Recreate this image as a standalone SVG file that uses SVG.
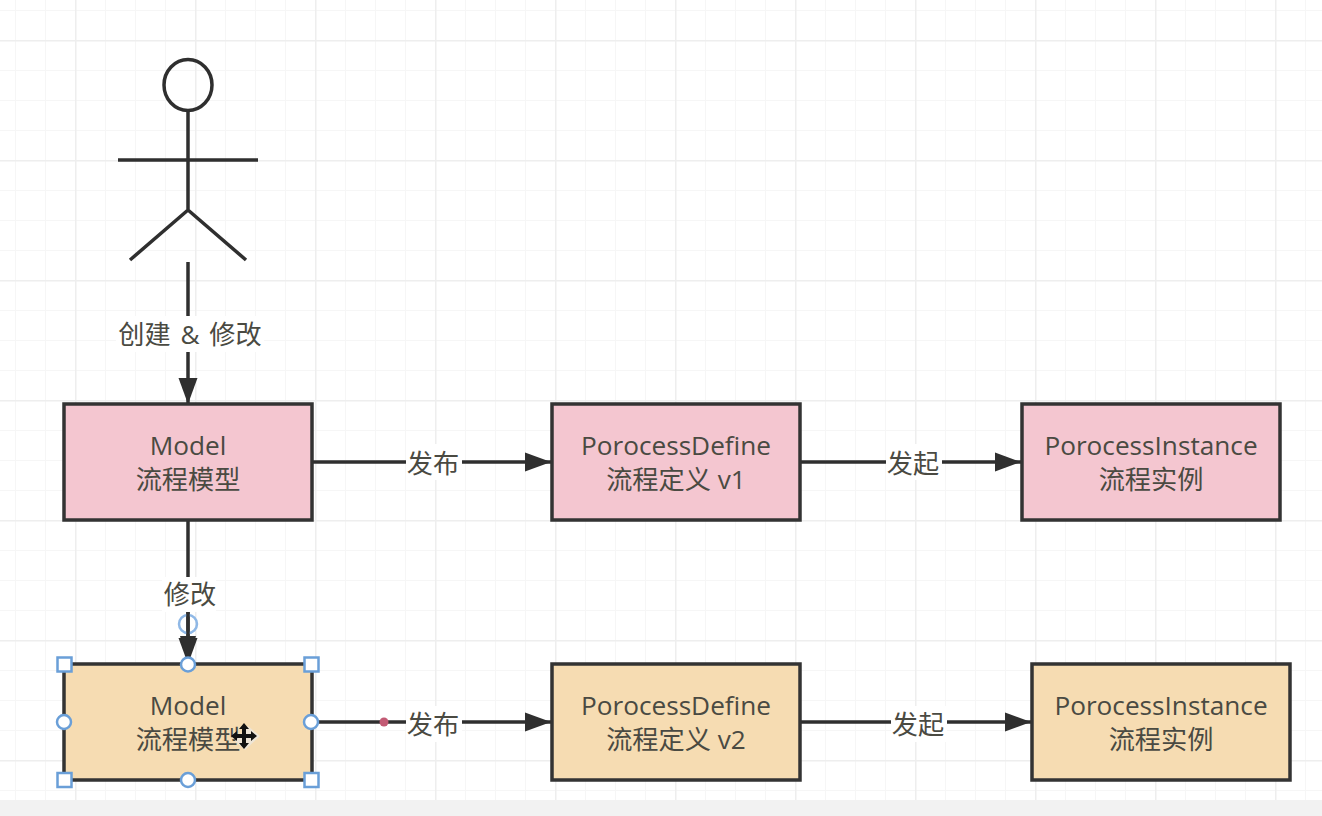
<svg xmlns="http://www.w3.org/2000/svg" width="1322" height="816" viewBox="0 0 1322 816">
<style>
.t{font-family:"Open Sans","Noto Sans CJK SC",sans-serif;font-size:26.200px;fill:#4a4a42;text-anchor:middle}
.e{fill:none;stroke:#2f2f2f;stroke-width:3.500}
.b{stroke:#333;stroke-width:3.500}
.p{fill:#f4c6d0}
.o{fill:#f6dcb2}
.lb{fill:#fff}
.h{fill:#fff;stroke:#6a9fd8;stroke-width:2.500}
.g1{stroke:#f6f6f6;stroke-width:2;fill:none}
.g2{stroke:#eeeeee;stroke-width:3;fill:none}
</style>
<defs>
<marker id="a" markerUnits="userSpaceOnUse" markerWidth="28" markerHeight="22" refX="26" refY="11" orient="auto"><path d="M0 1.500 L26 11 L0 20.500 Z" fill="#2f2f2f"/></marker>
<pattern id="gm" width="30" height="30" patternUnits="userSpaceOnUse" x="15" y="10"><path class="g1" d="M0 0V30M0 0H30"/></pattern>
<pattern id="gM" width="120" height="120" patternUnits="userSpaceOnUse" x="75" y="40"><path class="g2" d="M0 0V120M0 0H120"/></pattern>
</defs>
<rect width="1322" height="816" fill="#fff"/>
<rect width="1322" height="800" fill="url(#gm)"/>
<rect width="1322" height="800" fill="url(#gM)"/>
<rect y="800" width="1322" height="16" fill="#f2f2f2"/>

<g id="actor" class="e">
<ellipse cx="188" cy="85" rx="24" ry="25.500"/>
<path d="M188 110V210M118 160H258M188 210L130 260M188 210L246 260"/>
</g>

<g id="connectors">
<path class="e" d="M188 262V404" marker-end="url(#a)"/>
<path class="e" d="M313 462H551" marker-end="url(#a)"/>
<path class="e" d="M801 462H1021" marker-end="url(#a)"/>
<path class="e" d="M188 521V664" marker-end="url(#a)"/>
<path class="e" d="M313 722H551" marker-end="url(#a)"/>
<path class="e" d="M801 722H1031" marker-end="url(#a)"/>
</g>

<g id="label-create"><rect class="lb" x="116" y="316" width="148" height="36"/><text class="t" x="190" y="344" word-spacing="3">创建 &amp; 修改</text></g>
<g id="label-publish1"><rect class="lb" x="406" y="444" width="56" height="36"/><text class="t" x="433" y="473">发布</text></g>
<g id="label-start1"><rect class="lb" x="886" y="444" width="56" height="36"/><text class="t" x="913" y="473">发起</text></g>
<g id="label-modify"><rect class="lb" x="162" y="577" width="54" height="35"/><text class="t" x="190" y="604">修改</text></g>
<g id="label-publish2"><rect class="lb" x="406" y="706" width="56" height="36"/><text class="t" x="433" y="734">发布</text></g>
<g id="label-start2"><rect class="lb" x="891" y="706" width="56" height="36"/><text class="t" x="918" y="734">发起</text></g>

<g id="model1"><rect class="b p" x="64" y="404" width="248" height="116"/><text class="t" x="188" y="455">Model</text><text class="t" x="188" y="489">流程模型</text></g>
<g id="define1"><rect class="b p" x="552" y="404" width="248" height="116"/><text class="t" x="676" y="455">PorocessDefine</text><text class="t" x="676" y="489">流程定义 v1</text></g>
<g id="instance1"><rect class="b p" x="1022" y="404" width="258" height="116"/><text class="t" x="1151" y="455">PorocessInstance</text><text class="t" x="1151" y="489">流程实例</text></g>
<g id="model2"><rect class="b o" x="64" y="664" width="248" height="116"/><text class="t" x="188" y="715">Model</text><text class="t" x="188" y="749">流程模型</text></g>
<g id="define2"><rect class="b o" x="552" y="664" width="248" height="116"/><text class="t" x="676" y="715">PorocessDefine</text><text class="t" x="676" y="749">流程定义 v2</text></g>
<g id="instance2"><rect class="b o" x="1032" y="664" width="258" height="116"/><text class="t" x="1161" y="715">PorocessInstance</text><text class="t" x="1161" y="749">流程实例</text></g>

<g id="selection">
<circle cx="188" cy="624" r="9" fill="none" stroke="#8fb8e6" stroke-width="2.500"/>
<path d="M188 612V640" stroke="#2f2f2f" stroke-width="3.500"/>
<path d="M180 636H196L188 664Z" fill="#2f2f2f"/>
<rect class="h" x="57.500" y="657.500" width="14" height="14"/>
<rect class="h" x="304.500" y="657.500" width="14" height="14"/>
<rect class="h" x="57.500" y="773" width="14" height="14"/>
<rect class="h" x="304.500" y="773" width="14" height="14"/>
<circle class="h" cx="188" cy="664.500" r="7"/>
<circle class="h" cx="188" cy="780" r="7"/>
<circle class="h" cx="64" cy="722" r="7"/>
<circle class="h" cx="311" cy="722" r="7"/>
<circle cx="384" cy="722" r="4.500" fill="#c25a74"/>
<path d="M248 726l12 10-15 14-10-9z" fill="#eee5d6"/>
<path d="M244 727V745M235 736H253" stroke="#111" stroke-width="4" fill="none"/>
<path d="M244 723l-5 6h10zM244 749l-5-6h10zM231 736l6-5v10zM257 736l-6-5v10z" fill="#111"/>
</g>
</svg>
